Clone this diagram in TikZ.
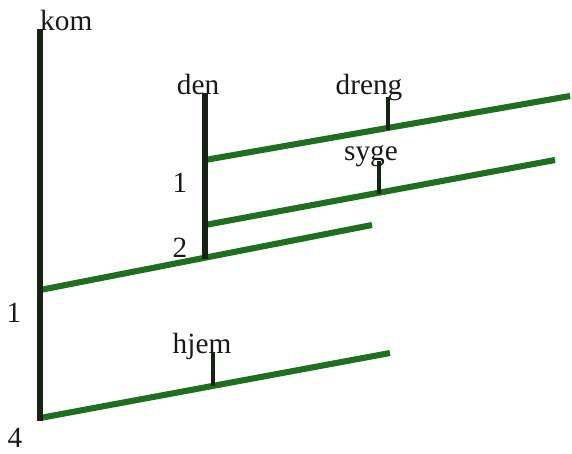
\documentclass[tikz,border=0pt]{standalone}
\usepackage{fontspec}
\setmainfont{Liberation Serif}
\usetikzlibrary{positioning}

\definecolor{trunkcol}{RGB}{22,34,22}
\definecolor{branchcol}{RGB}{30,112,30}

\begin{document}
\begin{tikzpicture}[
  x=0.03cm, y=-0.03cm,
  word/.style={
        inner sep=0pt,
        font=\fontsize{25}{30}\selectfont,
        text=black!90
  },
  trunk/.style={draw=trunkcol, line width=5.6pt},
  stem/.style={draw=trunkcol, line width=3pt},
  branch/.style={draw=branchcol, line width=5.2pt}
]

    \useasboundingbox (0,0) rectangle (572,453);

    % words and numbers
    \node[word, anchor=base west] (kom) at (40,31) {kom};
    \node[word, anchor=base] (den) at (198,95) {den};
    \node[word, anchor=base] (dreng) at (369,95) {dreng};
    \node[word, anchor=base] (syge) at (371,160) {syge};
    \node[word, anchor=base] (hjem) at (202,353) {hjem};
    \node[word] (n1) at (14,313) {1};
    \node[word] (n4) at (15,438) {4};
    \node[word] (d1) at (180,183) {1};
    \node[word] (d2) at (180,248) {2};

    % end points of the lines
    \coordinate (K_top) at (40,29);
    \coordinate (K_bot) at (40,421);
    \coordinate (K_1) at (40,290);
    \coordinate (K_4) at (40,418);
    \coordinate (D_top) at (205,93);
    \coordinate (D_bot) at (205,259);
    \coordinate (D_1) at (205,160);
    \coordinate (D_2) at (205,225);
    \coordinate (A_end) at (570,96);
    \coordinate (B_end) at (555,160);
    \coordinate (C_end) at (372,225);
    \coordinate (H_end) at (390,353);
    \coordinate (dreng_top) at (388,97);
    \coordinate (dreng_bot) at (388,130);
    \coordinate (syge_top) at (379,161);
    \coordinate (syge_bot) at (379,194);
    \coordinate (hjem_top) at (213,352);
    \coordinate (hjem_bot) at (213,386);

    \draw[branch] (D_1) -- (A_end);
    \draw[branch] (D_2) -- (B_end);
    \draw[branch] (K_1) -- (C_end);
    \draw[branch] (K_4) -- (H_end);

    \draw[trunk] (K_top) -- (K_bot);
    \draw[trunk] (D_top) -- (D_bot);
    \draw[stem] (dreng_top) -- (dreng_bot);
    \draw[stem] (syge_top) -- (syge_bot);
    \draw[stem] (hjem_top) -- (hjem_bot);
\end{tikzpicture}
\end{document}
